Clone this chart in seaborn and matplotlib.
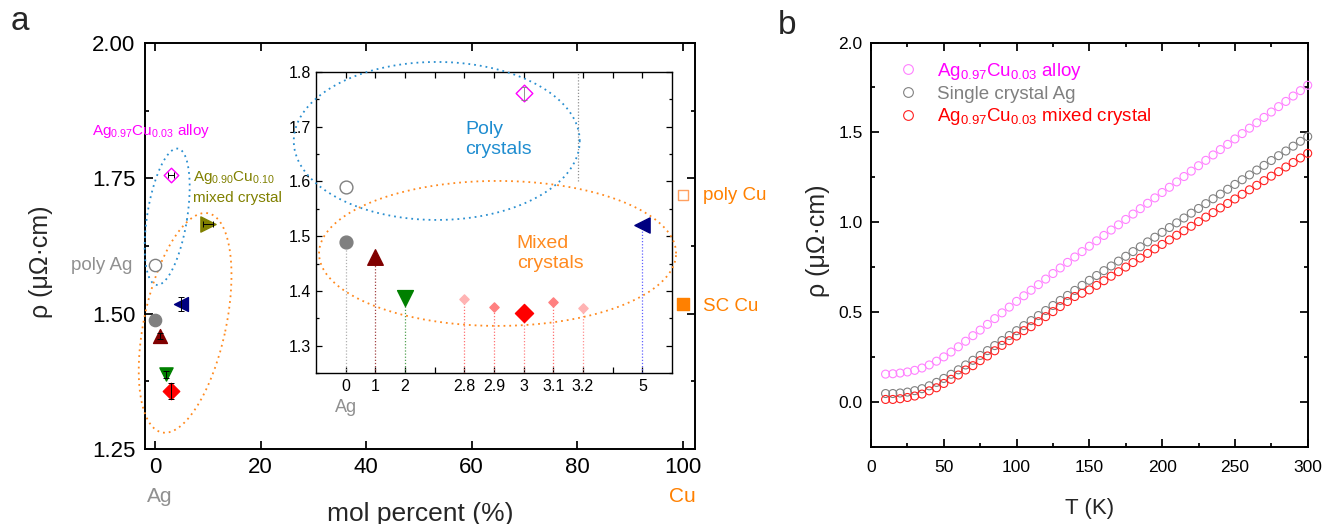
import numpy as np
import pandas as pd
import matplotlib
matplotlib.use("Agg")
import matplotlib.pyplot as plt
import seaborn as sns
from matplotlib.lines import Line2D
from matplotlib.ticker import MultipleLocator, FixedLocator, FormatStrFormatter

# ---------------- data: panel a (main) ----------------
main_names = ["poly Ag", "SC Ag", "Ag0.99Cu0.01", "Ag0.98Cu0.02", "Ag0.97Cu0.03 mixed",
              "Ag0.97Cu0.03 alloy", "Ag0.95Cu0.05", "Ag0.90Cu0.10", "poly Cu", "SC Cu"]
main_x = [0, 0, 1, 2, 3, 3, 5, 10, 100, 100]
main_rho = [1.589, 1.488, 1.459, 1.388, 1.357, 1.757, 1.518, 1.666, 1.719, 1.518]
main_yerr = [0, 0, 0.006, 0.006, 0.015, 0, 0.013, 0, 0, 0]
main_xerr = [0, 0, 0, 0, 0, 0.6, 0, 1.0, 0, 0]

# ---------------- data: panel a (inset) ----------------
inset_ticklabels = ["0", "1", "2", "", "2.8", "2.9", "3", "3.1", "3.2", "", "5"]
inset_cat = ["0", "0", "1", "2", "2.8", "2.9", "3", "3", "3.1", "3.2", "5"]
inset_rho = [1.590, 1.490, 1.462, 1.387, 1.385, 1.370, 1.359, 1.761, 1.379, 1.368, 1.520]
inset_stem = [False, True, True, True, True, True, True, False, True, True, True]

# ---------------- data: panel b ----------------
T = [10, 15, 20, 25, 30, 35, 40, 45, 50, 55, 60, 65, 70, 75, 80, 85, 90, 95, 100,
     105, 110, 115, 120, 125, 130, 135, 140, 145, 150, 155, 160, 165, 170, 175, 180,
     185, 190, 195, 200, 205, 210, 215, 220, 225, 230, 235, 240, 245, 250, 255, 260,
     265, 270, 275, 280, 285, 290, 295, 300]
rho_alloy = [0.154, 0.156, 0.160, 0.166, 0.175, 0.188, 0.205, 0.226, 0.250, 0.277,
             0.306, 0.337, 0.368, 0.399, 0.431, 0.463, 0.495, 0.527, 0.559, 0.590,
             0.621, 0.652, 0.683, 0.714, 0.745, 0.776, 0.806, 0.836, 0.866, 0.896,
             0.926, 0.956, 0.985, 1.015, 1.045, 1.075, 1.105, 1.135, 1.165, 1.194,
             1.224, 1.254, 1.284, 1.314, 1.344, 1.374, 1.404, 1.433, 1.463, 1.493,
             1.523, 1.553, 1.583, 1.613, 1.643, 1.672, 1.702, 1.732, 1.762]
rho_single = [0.046, 0.046, 0.049, 0.054, 0.062, 0.073, 0.089, 0.108, 0.130, 0.153,
              0.178, 0.205, 0.231, 0.258, 0.285, 0.313, 0.341, 0.369, 0.396, 0.424,
              0.452, 0.480, 0.508, 0.536, 0.564, 0.592, 0.620, 0.648, 0.676, 0.703,
              0.730, 0.756, 0.783, 0.810, 0.836, 0.863, 0.890, 0.916, 0.943, 0.970,
              0.996, 1.023, 1.050, 1.076, 1.103, 1.130, 1.156, 1.183, 1.210, 1.236,
              1.263, 1.290, 1.316, 1.343, 1.370, 1.396, 1.423, 1.450, 1.476]
rho_mixed = [0.013, 0.013, 0.017, 0.024, 0.032, 0.043, 0.061, 0.078, 0.102, 0.125,
             0.149, 0.177, 0.201, 0.229, 0.255, 0.284, 0.314, 0.340, 0.366, 0.396,
             0.418, 0.446, 0.474, 0.502, 0.530, 0.558, 0.586, 0.604, 0.623, 0.648,
             0.674, 0.699, 0.724, 0.750, 0.775, 0.800, 0.826, 0.851, 0.876, 0.901,
             0.927, 0.952, 0.977, 1.003, 1.028, 1.053, 1.079, 1.104, 1.129, 1.155,
             1.180, 1.205, 1.231, 1.256, 1.281, 1.307, 1.332, 1.357, 1.383]
series_labels = ["Ag$_{0.97}$Cu$_{0.03}$ alloy", "Single crystal Ag",
                 "Ag$_{0.97}$Cu$_{0.03}$ mixed crystal"]

# ---------------- styles ----------------
main_style = {
    "poly Ag": dict(marker="o", s=78, fc="white", ec="#808080"),
    "SC Ag": dict(marker="o", s=78, fc="#808080", ec="#808080"),
    "Ag0.99Cu0.01": dict(marker="^", s=100, fc="#800000", ec="#800000"),
    "Ag0.98Cu0.02": dict(marker="v", s=90, fc="#008000", ec="#008000"),
    "Ag0.97Cu0.03 mixed": dict(marker="D", s=70, fc="#ff0000", ec="#ff0000"),
    "Ag0.97Cu0.03 alloy": dict(marker="D", s=55, fc="white", ec="#ff00ff"),
    "Ag0.95Cu0.05": dict(marker="<", s=100, fc="#000080", ec="#000080"),
    "Ag0.90Cu0.10": dict(marker=">", s=120, fc="#808000", ec="#808000"),
    "poly Cu": dict(marker="s", s=55, fc="white", ec="#ffa060"),
    "SC Cu": dict(marker="s", s=65, fc="#ff8000", ec="#ff8000"),
}
inset_style = [
    dict(marker="o", s=85, fc="white", ec="#808080", stem="#b0b0b0"),
    dict(marker="o", s=85, fc="#808080", ec="#808080", stem="#b0b0b0"),
    dict(marker="^", s=125, fc="#800000", ec="#800000", stem="#a04040"),
    dict(marker="v", s=130, fc="#008000", ec="#008000", stem="#50a050"),
    dict(marker="D", s=22, fc="#ffb3b3", ec="#ffb3b3", stem="#ff7070"),
    dict(marker="D", s=22, fc="#ff8080", ec="#ff8080", stem="#ff7070"),
    dict(marker="D", s=85, fc="#ff0000", ec="#ff0000", stem="#ff8080"),
    dict(marker="D", s=72, fc="white", ec="#ff00ff", stem=None),
    dict(marker="D", s=22, fc="#ff8080", ec="#ff8080", stem="#ff7070"),
    dict(marker="D", s=22, fc="#ffb3b3", ec="#ffb3b3", stem="#ff9090"),
    dict(marker="<", s=120, fc="#000080", ec="#000080", stem="#6060ff"),
]
series_colors = ["#ff80ff", "#808080", "#ff2020"]
text_colors = ["#ff00ff", "#808080", "#ff0000"]
BLUE = "#2a8fd0"
ORANGE = "#ff8a1f"

sns.set_theme(style="ticks")
plt.rcParams["font.family"] = ["Liberation Sans", "DejaVu Sans"]
plt.rcParams["mathtext.fontset"] = "custom"
plt.rcParams["mathtext.rm"] = "Liberation Sans"
plt.rcParams["mathtext.it"] = "Liberation Sans:italic"
plt.rcParams["mathtext.default"] = "rm"
plt.rcParams["axes.edgecolor"] = "black"
plt.rcParams["xtick.color"] = "black"
plt.rcParams["ytick.color"] = "black"

W, H = 1325, 524
fig = plt.figure(figsize=(W / 100, H / 100), dpi=100)
fig.patch.set_facecolor("white")

axA = fig.add_axes([145 / W, 75 / H, 550 / W, 406 / H])
axI = fig.add_axes([316 / W, 151 / H, 356 / W, 301 / H], zorder=5)
axB = fig.add_axes([871 / W, 77.3 / H, 436.7 / W, 404.2 / H])


def style_ticks(ax, lw, major, minor, size, xpad, ypad):
    for s in ax.spines.values():
        s.set_linewidth(lw)
        s.set_color("black")
    ax.tick_params(which="both", direction="in", top=True, right=True,
                   width=lw * 0.9, labelsize=size, colors="black")
    ax.tick_params(which="major", length=major)
    ax.tick_params(which="minor", length=minor)
    ax.tick_params(axis="x", which="both", pad=xpad)
    ax.tick_params(axis="y", which="both", pad=ypad)


def dotted_ellipse(ax, cx, cy, a_px, b_px, tilt_deg, color, z=3):
    t = np.linspace(0, 2 * np.pi, 400)
    th = np.deg2rad(tilt_deg)
    u = b_px * np.cos(t)
    v = a_px * np.sin(t)
    dx = u * np.cos(th) + v * np.sin(th)
    dy = -u * np.sin(th) + v * np.cos(th)
    c = ax.transData.transform((cx, cy))
    pts = ax.transData.inverted().transform(np.column_stack([c[0] + dx, c[1] + dy]))
    ax.plot(pts[:, 0], pts[:, 1], ls=(0, (1, 2.2)), lw=1.3, color=color,
            clip_on=False, zorder=z)


# ================= panel a: main =================
axA.set_xlim(-1.9, 102.3)
axA.set_ylim(1.25, 2.00)
axA.xaxis.set_major_locator(MultipleLocator(20))
axA.yaxis.set_major_locator(MultipleLocator(0.25))
axA.yaxis.set_minor_locator(MultipleLocator(0.125))
axA.yaxis.set_major_formatter(FormatStrFormatter("%.2f"))
style_ticks(axA, 1.4, 5.5, 3, 16, 6, 7)

for name, x, y, ye, xe in zip(main_names, main_x, main_rho, main_yerr, main_xerr):
    st = main_style[name]
    sns.scatterplot(x=[x], y=[y], ax=axA, marker=st["marker"], s=st["s"],
                    color=st["fc"], edgecolor=st["ec"], linewidth=1.0,
                    legend=False, zorder=4, clip_on=False)
    if ye > 0 or xe > 0:
        axA.errorbar([x], [y], yerr=[ye] if ye > 0 else None,
                     xerr=[xe] if xe > 0 else None, fmt="none", ecolor="black",
                     elinewidth=0.7, capsize=2, capthick=0.7, zorder=5)

axA.set_xlabel("mol percent (%)", fontsize=19)
axA.set_ylabel("ρ (μΩ·cm)", fontsize=18)
axA.xaxis.set_label_coords(0.5, -0.13)
axA.yaxis.set_label_coords(-0.168, 0.46)

trA = axA.get_xaxis_transform()
axA.text(0.8, -0.116, "Ag", transform=trA, ha="center", va="center",
         fontsize=15, color="#909090")
axA.text(100, -0.116, "Cu", transform=trA, ha="center", va="center",
         fontsize=15, color="#ff8000")
axA.text(-12, 1.838, "Ag$_{0.97}$Cu$_{0.03}$ alloy", ha="left", va="center",
         fontsize=11, color="#ff00ff", clip_on=False)
axA.text(7.1, 1.752, "Ag$_{0.90}$Cu$_{0.10}$", ha="left", va="center",
         fontsize=11, color="#808000")
axA.text(7.1, 1.714, "mixed crystal", ha="left", va="center",
         fontsize=11, color="#808000")
axA.text(-4.2, 1.589, "poly Ag", ha="right", va="center", fontsize=13.5,
         color="#909090", clip_on=False)
axA.text(103.8, 1.719, "poly Cu", ha="left", va="center", fontsize=13.5,
         color="#ff8000", clip_on=False)
axA.text(103.8, 1.513, "SC Cu", ha="left", va="center", fontsize=13.5,
         color="#ff8000", clip_on=False)

dotted_ellipse(axA, 2.3, 1.679, 69, 20, 9, BLUE)
dotted_ellipse(axA, 5.7, 1.483, 112, 41, 12, ORANGE)

# ================= panel a: inset =================
axI.set_facecolor("white")
axI.set_xlim(-1, 11)
axI.set_ylim(1.25, 1.80)
pos = list(range(len(inset_ticklabels)))
axI.xaxis.set_major_locator(FixedLocator(pos))
axI.set_xticklabels(inset_ticklabels)
axI.yaxis.set_major_locator(MultipleLocator(0.1))
axI.yaxis.set_minor_locator(MultipleLocator(0.05))
axI.yaxis.set_major_formatter(FormatStrFormatter("%.1f"))
style_ticks(axI, 1.0, 4, 2.5, 11.5, 4, 3.5)

ix = [inset_ticklabels.index(c) for c in inset_cat]
for xi, yi, has_stem, st in zip(ix, inset_rho, inset_stem, inset_style):
    if has_stem:
        axI.vlines(xi, 1.25, yi, colors=st["stem"], linestyles=(0, (1, 1.5)),
                   lw=0.9, zorder=2)
    sns.scatterplot(x=[xi], y=[yi], ax=axI, marker=st["marker"], s=st["s"],
                    color=st["fc"], edgecolor=st["ec"], linewidth=1.0,
                    legend=False, zorder=4)
# error bar on the alloy point
axI.errorbar([ix[7]], [inset_rho[7]], yerr=[0.012], fmt="none", ecolor="#808080",
             elinewidth=0.6, capsize=2.5, capthick=0.6, zorder=5)
# grey dotted guide
axI.vlines(7.84, 1.60, 1.80, colors="#909090", linestyles=(0, (1, 1.5)), lw=0.9)

axI.text(0, -0.116, "Ag", transform=axI.get_xaxis_transform(), ha="center",
         va="center", fontsize=13, color="#909090")
axI.text(4.02, 1.676, "Poly\ncrystals", ha="left", va="center", fontsize=14,
         color="#1f8dd0", linespacing=1.25)
axI.text(5.77, 1.4685, "Mixed\ncrystals", ha="left", va="center", fontsize=14,
         color=ORANGE, linespacing=1.25)

dotted_ellipse(axI, 3.07, 1.674, 79, 143, 0, BLUE, z=3)
dotted_ellipse(axI, 5.12, 1.4685, 72.5, 178.5, 0, ORANGE, z=3)

# ================= panel b =================
axB.set_xlim(0, 300)
axB.set_ylim(-0.25, 2.0)
axB.xaxis.set_major_locator(MultipleLocator(50))
axB.xaxis.set_minor_locator(MultipleLocator(25))
axB.yaxis.set_major_locator(MultipleLocator(0.5))
axB.yaxis.set_minor_locator(MultipleLocator(0.25))
axB.yaxis.set_major_formatter(FormatStrFormatter("%.1f"))
style_ticks(axB, 1.4, 6, 3, 12.5, 9.5, 6)

dfb = pd.DataFrame({
    "T": T * 3,
    "rho": rho_alloy + rho_single + rho_mixed,
    "sample": [series_labels[0]] * len(T) + [series_labels[1]] * len(T)
              + [series_labels[2]] * len(T),
})
for lab, col in zip(series_labels, series_colors):
    sub = dfb[dfb["sample"] == lab]
    n0 = len(axB.collections)
    sns.scatterplot(data=sub, x="T", y="rho", ax=axB, marker="o", s=33,
                    color=col, legend=False, zorder=3, clip_on=False)
    for coll in axB.collections[n0:]:
        coll.set_facecolor("none")
        coll.set_edgecolor(col)
        coll.set_linewidth(0.8)

handles = [Line2D([], [], marker="o", ls="none", mfc="none", mec=c, ms=7, mew=0.8)
           for c in series_colors]
leg = axB.legend(handles, series_labels, loc="upper left",
                 bbox_to_anchor=(0.063, 0.955), frameon=False, fontsize=13.5,
                 handlelength=1.0, handletextpad=1.05, labelspacing=0.2,
                 borderpad=0, borderaxespad=0)
for txt, c in zip(leg.get_texts(), text_colors):
    txt.set_color(c)

axB.set_xlabel("T (K)", fontsize=16)
axB.set_ylabel("ρ (μΩ·cm)", fontsize=18)
axB.xaxis.set_label_coords(0.5, -0.128)
axB.yaxis.set_label_coords(-0.094, 0.51)

fig.text(20 / W, 1 - 22 / H, "a", fontsize=24, ha="center", va="center")
fig.text(787 / W, 1 - 25 / H, "b", fontsize=24, ha="center", va="center")

fig.savefig("out.png", dpi=100, facecolor="white")
